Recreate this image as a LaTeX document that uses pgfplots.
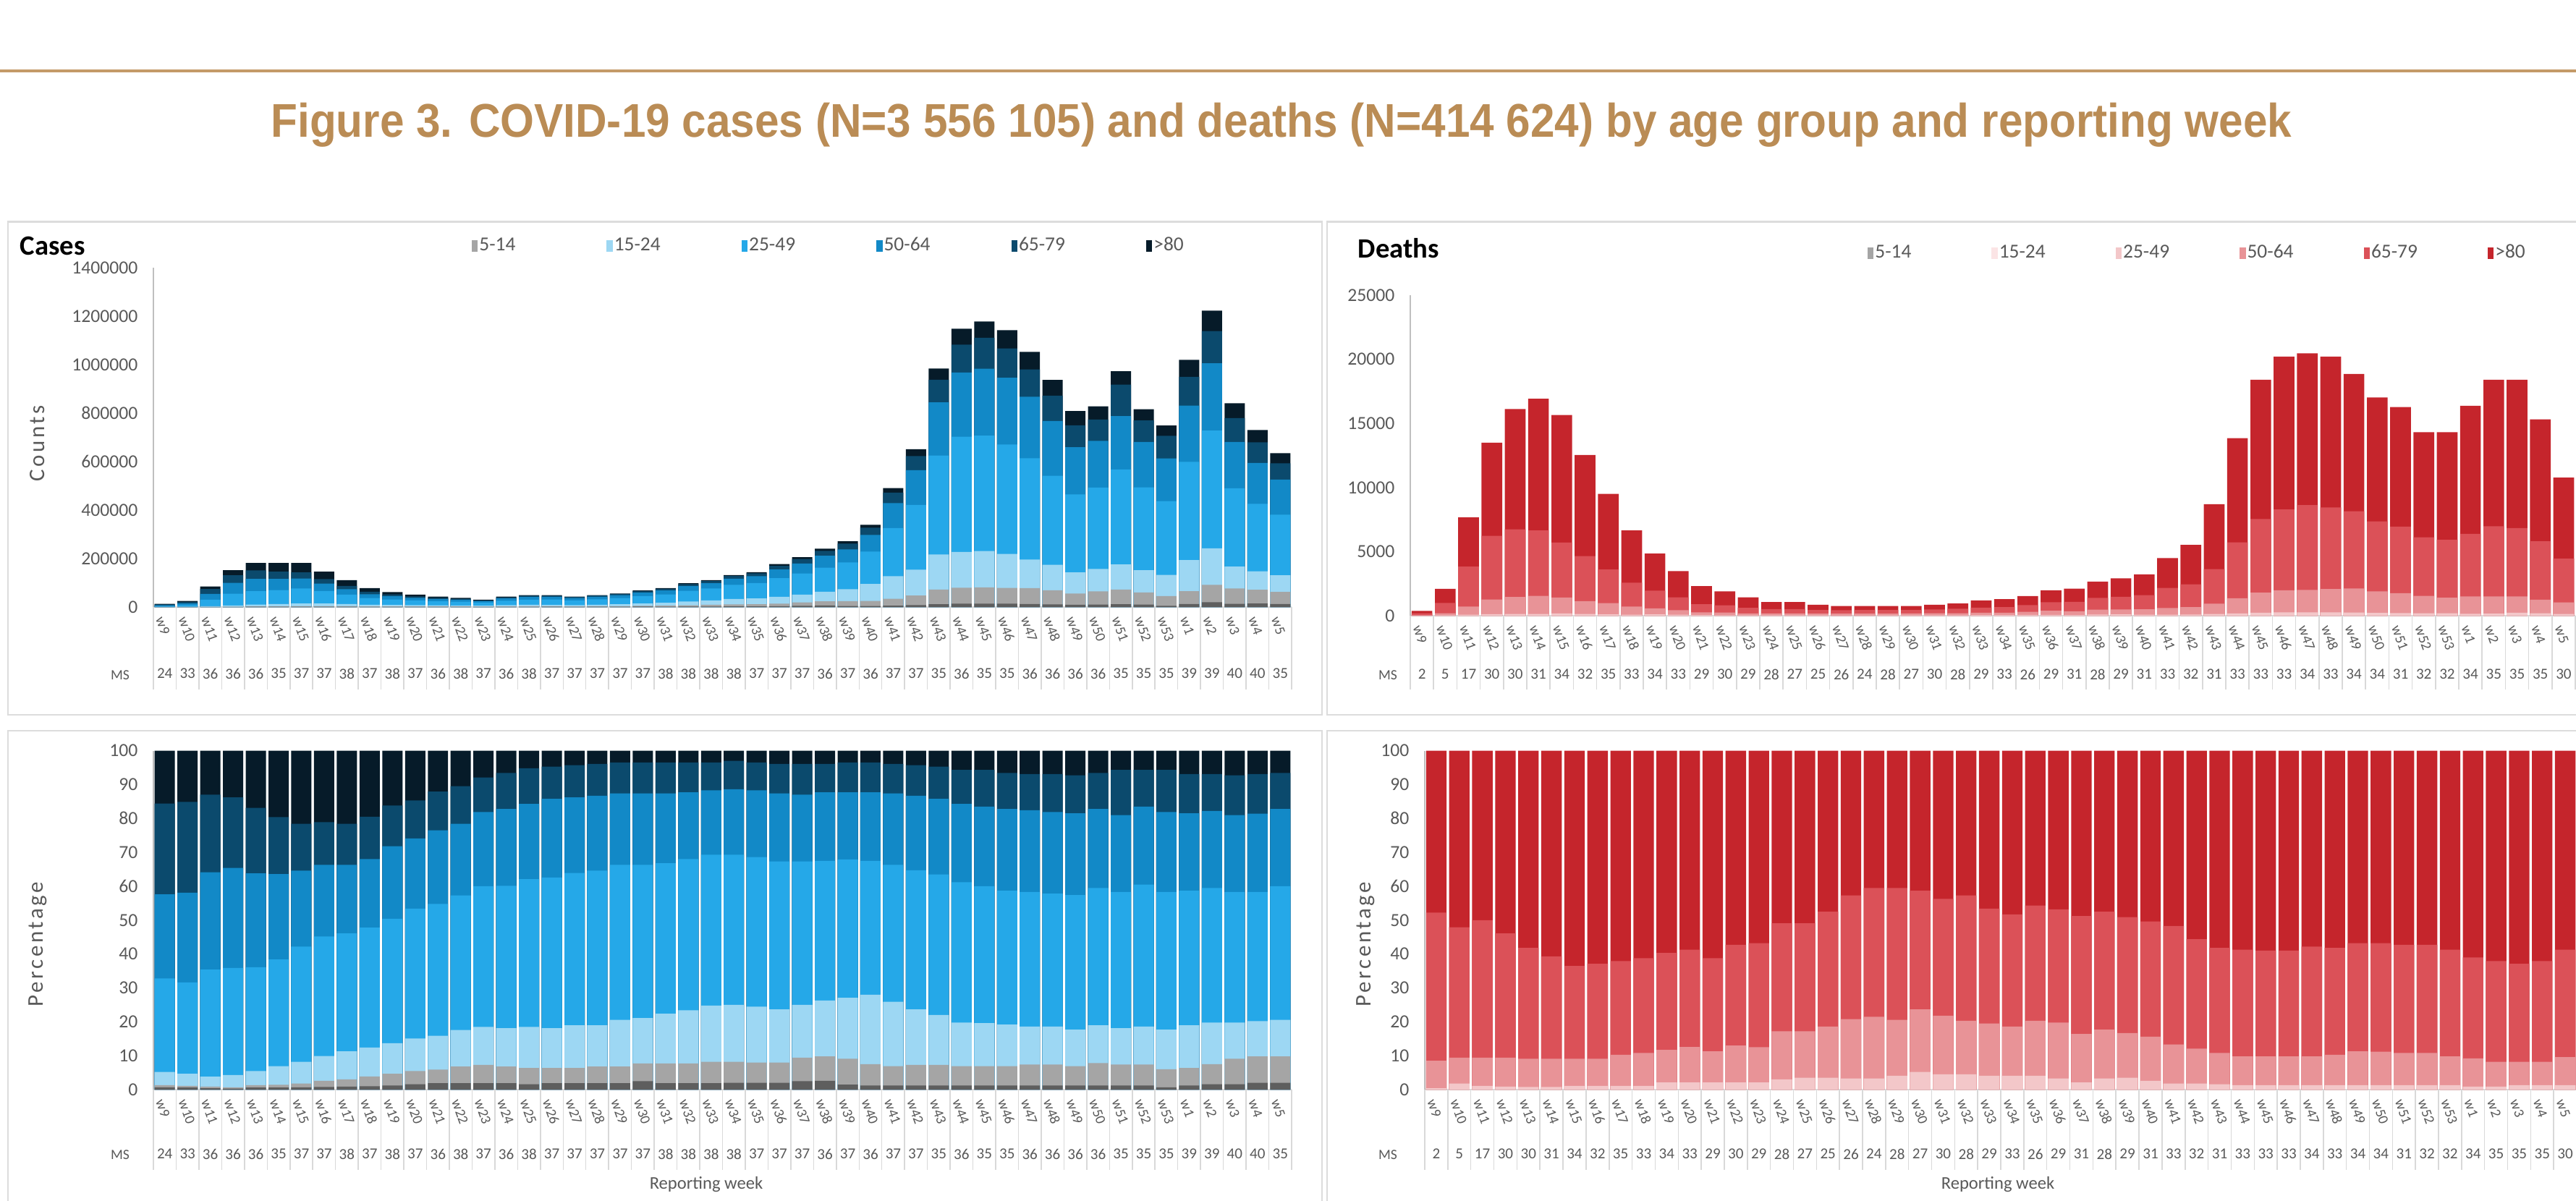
\documentclass[border=0pt]{standalone}
\usepackage{pgfplots}
\pgfplotsset{compat=1.18}
\usepackage{pgfplotstable}
\usepackage{graphicx}
\usepackage{fontspec}
\setmainfont{Carlito}
\newfontfamily\titlefont{Liberation Sans}
\newfontfamily\spacedfont[LetterSpace=11.5]{Carlito}

\definecolor{cA}{HTML}{5E5E5E}
\definecolor{cB}{HTML}{A5A5A5}
\definecolor{cC}{HTML}{9DD7F3}
\definecolor{cD}{HTML}{25A8E8}
\definecolor{cE}{HTML}{1289C7}
\definecolor{cF}{HTML}{0B4A6D}
\definecolor{cG}{HTML}{061B29}
\definecolor{dC}{HTML}{FBE4E5}
\definecolor{dD}{HTML}{F3C7C9}
\definecolor{dE}{HTML}{E89397}
\definecolor{dF}{HTML}{DB5158}
\definecolor{dG}{HTML}{C5252C}
\definecolor{tgray}{HTML}{595959}
\definecolor{xgray}{HTML}{D9D9D9}
\definecolor{ygray}{HTML}{BFBFBF}
\definecolor{panelgray}{HTML}{DCDCDC}
\definecolor{tan}{HTML}{BA8C55}
\definecolor{tanline}{HTML}{C49A68}

\def\weeks{w9,w10,w11,w12,w13,w14,w15,w16,w17,w18,w19,w20,w21,w22,w23,w24,w25,w26,w27,w28,w29,w30,w31,w32,w33,w34,w35,w36,w37,w38,w39,w40,w41,w42,w43,w44,w45,w46,w47,w48,w49,w50,w51,w52,w53,w1,w2,w3,w4,w5}
\def\mscases{24,33,36,36,36,35,37,37,38,37,38,37,36,38,37,36,38,37,37,37,37,37,38,38,38,38,37,37,37,36,37,36,37,37,35,36,35,35,36,36,36,36,35,35,35,39,39,40,40,35}
\def\msdeaths{2,5,17,30,30,31,34,32,35,33,34,33,29,30,29,28,27,25,26,24,28,27,30,28,29,33,26,29,31,28,29,31,33,32,31,33,33,33,34,33,34,34,31,32,32,34,35,35,35,30}

% cumulative tops of the stacked layers: T = >80 top, c6 = 65-79 top, ..., c1 = 0-4 top
\pgfplotstableread{
k T c6 c5 c4 c3 c2 c1
0 13000 11000 7500 4300 700 200 100
1 25000 21200 14500 7900 1200 300 150
2 85000 74000 54500 30100 3200 800 300
3 152000 131000 99400 54600 6500 1100 500
4 182000 151200 116100 65700 10000 2400 1100
5 182000 146300 115800 69900 12600 2500 1100
6 182000 142700 117600 76800 14900 3300 1300
7 146000 115200 96800 66000 14500 3800 1200
8 111000 87000 73600 51200 12500 3300 1000
9 78000 62800 53000 37300 9700 3000 800
10 62000 52000 44500 31200 8500 2900 700
11 51000 43500 37800 27200 7700 2800 800
12 43000 37800 32900 23600 6800 2500 800
13 38000 34000 29800 21800 6700 2600 700
14 30000 27600 24600 18000 5600 2200 600
15 43000 40200 35600 25800 7800 2900 800
16 49000 46500 41300 30400 9100 3100 800
17 49000 46700 42000 30700 8900 3100 900
18 43000 41200 37100 27500 8200 2800 800
19 49000 47100 42500 31700 9300 3300 900
20 56000 54000 48900 37100 11500 3800 1100
21 68000 65600 59400 45100 14300 5200 1700
22 78000 75300 68200 52100 17500 6000 1500
23 98000 94600 85900 66600 22900 7500 1900
24 111000 107100 98000 76900 27500 9100 2100
25 132000 128000 117000 91500 33000 10800 2600
26 144000 139000 127200 98800 35300 11500 2900
27 177000 170100 154700 119100 41900 14200 3500
28 206000 198000 179200 138600 51500 19400 5200
29 241000 231600 211400 162700 63400 23600 6300
30 271000 261500 237700 184000 73400 24700 4100
31 339000 327100 297300 228800 94900 25400 4100
32 491000 471900 429100 325500 127200 33900 5900
33 651000 623000 564400 421200 154300 47500 7800
34 984000 937800 844300 624800 216500 71800 11800
35 1148000 1082600 967800 702600 227300 79200 13800
36 1178000 1110900 983600 706800 230900 81300 14100
37 1142000 1066600 945600 670400 219300 78800 13700
38 1053000 980300 867700 613900 195900 77900 12600
39 937000 872300 767400 541600 174300 69300 11200
40 809000 749900 659300 464400 143200 55800 9700
41 828000 773400 685600 492700 157300 64600 9900
42 973000 917500 788100 567300 176100 72000 11700
43 816000 769500 681400 493700 151800 60400 9800
44 749000 706300 613400 436700 132600 44900 5200
45 1020000 949600 831300 598700 193800 65300 12200
46 1223000 1138600 1005300 727700 242200 91700 19600
47 841000 779600 681200 490300 166500 76500 13500
48 730000 679600 594200 425600 147500 71500 14600
49 635000 593100 525800 381000 130800 62200 12700
}\casesN

\pgfplotstableread{
k c6 c5 c4 c3 c2 c1
0 84.4 57.6 32.8 5.2 1.3 0.7
1 84.9 58.1 31.6 4.7 1.1 0.6
2 87.0 64.1 35.4 3.8 0.9 0.4
3 86.2 65.4 35.9 4.3 0.7 0.3
4 83.1 63.8 36.1 5.5 1.3 0.6
5 80.4 63.6 38.4 6.9 1.4 0.6
6 78.4 64.6 42.2 8.2 1.8 0.7
7 78.9 66.3 45.2 9.9 2.6 0.8
8 78.4 66.3 46.1 11.3 3.0 0.9
9 80.5 68.0 47.8 12.4 3.9 1.0
10 83.8 71.8 50.4 13.7 4.7 1.2
11 85.3 74.1 53.4 15.1 5.5 1.6
12 87.9 76.5 54.8 15.9 5.9 1.9
13 89.5 78.4 57.3 17.6 6.8 1.9
14 92.1 81.9 60.0 18.5 7.3 1.9
15 93.4 82.8 60.1 18.1 6.8 1.9
16 94.8 84.3 62.1 18.5 6.4 1.6
17 95.3 85.8 62.6 18.1 6.4 1.9
18 95.7 86.2 63.9 19.0 6.4 1.9
19 96.1 86.7 64.6 19.0 6.8 1.9
20 96.5 87.4 66.3 20.6 6.8 1.9
21 96.5 87.4 66.3 21.1 7.7 2.5
22 96.5 87.4 66.8 22.4 7.7 1.9
23 96.5 87.7 68.0 23.4 7.7 1.9
24 96.5 88.3 69.3 24.8 8.2 1.9
25 97.0 88.6 69.3 25.0 8.2 2.0
26 96.5 88.3 68.6 24.5 8.0 2.0
27 96.1 87.4 67.3 23.7 8.0 2.0
28 96.1 87.0 67.3 25.0 9.4 2.5
29 96.1 87.7 67.5 26.3 9.8 2.6
30 96.5 87.7 67.9 27.1 9.1 1.5
31 96.5 87.7 67.5 28.0 7.5 1.2
32 96.1 87.4 66.3 25.9 6.9 1.2
33 95.7 86.7 64.7 23.7 7.3 1.2
34 95.3 85.8 63.5 22.0 7.3 1.2
35 94.3 84.3 61.2 19.8 6.9 1.2
36 94.3 83.5 60.0 19.6 6.9 1.2
37 93.4 82.8 58.7 19.2 6.9 1.2
38 93.1 82.4 58.3 18.6 7.4 1.2
39 93.1 81.9 57.8 18.6 7.4 1.2
40 92.7 81.5 57.4 17.7 6.9 1.2
41 93.4 82.8 59.5 19.0 7.8 1.2
42 94.3 81.0 58.3 18.1 7.4 1.2
43 94.3 83.5 60.5 18.6 7.4 1.2
44 94.3 81.9 58.3 17.7 6.0 0.7
45 93.1 81.5 58.7 19.0 6.4 1.2
46 93.1 82.2 59.5 19.8 7.5 1.6
47 92.7 81.0 58.3 19.8 9.1 1.6
48 93.1 81.4 58.3 20.2 9.8 2.0
49 93.4 82.8 60.0 20.6 9.8 2.0
}\casesP

% deaths: T = >80 top, d3 = 65-79 top, d2 = 50-64 top, d1 = 25-49 top
\pgfplotstableread{
k T d3 d2 d1
0 370 193 31 2
1 2090 1001 196 38
2 7670 3835 721 84
3 13500 6224 1269 122
4 16120 6738 1467 129
5 16920 6650 1540 135
6 15650 5712 1424 172
7 12540 4652 1141 138
8 9510 3604 980 105
9 6650 2580 718 73
10 4850 1955 567 102
11 3480 1437 438 73
12 2310 896 261 49
13 1900 811 247 40
14 1430 618 179 30
15 1060 520 182 32
16 1060 520 182 37
17 860 452 160 30
18 760 435 158 25
19 760 452 163 25
20 760 452 157 31
21 760 446 180 40
22 860 484 187 39
23 960 550 195 43
24 1190 635 232 49
25 1290 667 240 53
26 1530 831 311 63
27 1980 1053 392 65
28 2110 1080 346 44
29 2660 1397 471 88
30 2910 1481 486 102
31 3230 1602 504 84
32 4500 2174 599 81
33 5520 2451 668 99
34 8700 3637 940 139
35 13850 5720 1357 180
36 18410 7548 1804 239
37 20210 8286 1981 263
38 20460 8634 2005 266
39 20210 8448 2082 263
40 18860 8148 2131 245
41 17020 7353 1906 221
42 16270 6947 1757 212
43 14320 6115 1547 186
44 14320 5914 1403 186
45 16370 6384 1506 147
46 18410 6977 1510 166
47 18410 6830 1510 239
48 15320 5806 1256 199
49 10780 4452 1035 140
}\deathsN

\pgfplotstableread{
k p3 p2 p1
0 52.2 8.5 0.4
1 47.9 9.4 1.8
2 50.0 9.4 1.1
3 46.1 9.4 0.9
4 41.8 9.1 0.8
5 39.3 9.1 0.8
6 36.5 9.1 1.1
7 37.1 9.1 1.1
8 37.9 10.3 1.1
9 38.8 10.8 1.1
10 40.3 11.7 2.1
11 41.3 12.6 2.1
12 38.8 11.3 2.1
13 42.7 13.0 2.1
14 43.2 12.5 2.1
15 49.1 17.2 3.0
16 49.1 17.2 3.5
17 52.5 18.6 3.5
18 57.3 20.8 3.3
19 59.5 21.5 3.3
20 59.5 20.6 4.1
21 58.7 23.7 5.2
22 56.3 21.8 4.5
23 57.3 20.3 4.5
24 53.4 19.5 4.1
25 51.7 18.6 4.1
26 54.3 20.3 4.1
27 53.2 19.8 3.3
28 51.2 16.4 2.1
29 52.5 17.7 3.3
30 50.9 16.7 3.5
31 49.6 15.6 2.6
32 48.3 13.3 1.8
33 44.4 12.1 1.8
34 41.8 10.8 1.6
35 41.3 9.8 1.3
36 41.0 9.8 1.3
37 41.0 9.8 1.3
38 42.2 9.8 1.3
39 41.8 10.3 1.3
40 43.2 11.3 1.3
41 43.2 11.2 1.3
42 42.7 10.8 1.3
43 42.7 10.8 1.3
44 41.3 9.8 1.3
45 39.0 9.2 0.9
46 37.9 8.2 0.9
47 37.1 8.2 1.3
48 37.9 8.2 1.3
49 41.3 9.6 1.3
}\deathsP

\pgfplotsset{
  lay/.style={ybar, bar width=0.89, bar shift=0pt, fill=#1, draw=none, forget plot},
  panel/.style={
    scale only axis, anchor=south west,
    xmin=-0.5, xmax=49.5, ymin=0, enlargelimits=false,
    axis x line*=bottom, axis y line*=left,
    x axis line style={draw=xgray, line width=0.02cm, -},
    y axis line style={draw=ygray, line width=0.02cm, -},
    xtick={0,...,49}, xticklabels/.expand once=\weeks,
    major tick length=0pt, tick align=outside,
    xticklabel style={yshift=-0.14cm, xshift=-0.07cm, rotate=-70, anchor=west, inner sep=0pt,
      font=\fontsize{5.6}{6}\selectfont, text=tgray},
    yticklabel style={xshift=-0.21cm, inner sep=0pt, anchor=east,
      font=\fontsize{7.3}{8}\selectfont, text=tgray},
    /pgf/number format/assume math mode=true,
    /pgf/number format/fixed, /pgf/number format/precision=0,
    /pgf/number format/1000 sep={},
    scaled y ticks=false,
    legend columns=6,
    legend style={draw=none, fill=none, inner sep=0pt, outer sep=0pt,
      font=\fontsize{7.8}{9}\selectfont, text=tgray,
      nodes={inner sep=0.02cm}, cells={anchor=west},
      /tikz/every even column/.append style={column sep=0pt}},
  },
  mspanel/.style={
    scale only axis, anchor=south west,
    xmin=-0.5, xmax=49.5, ymin=0, ymax=1,
    axis x line*=bottom, axis y line=none, x axis line style={draw=none},
    xtick={0,...,49}, major tick length=0pt, tick align=outside,
    minor xtick={-0.5,0.5,...,49.5},
    minor tick style={draw=xgray, line width=0.015cm},
    xticklabel style={anchor=center, inner sep=0pt,
      font=\fontsize{6.0}{7}\selectfont, text=tgray},
  },
}

\newcommand\limg[1]{\addlegendimage{legend image code/.code={\fill[#1] (0cm,-0.07cm) rectangle (0.07cm,0.07cm);}}}

\begin{document}
\begin{tikzpicture}
\useasboundingbox (0,0) rectangle (35.6,-16.59);

% header rule and title
\draw[tanline, line width=0.04cm] (0,-0.976) -- (35.6,-0.976);
\node[anchor=base, text=tan, inner sep=0pt] at (17.71,-1.895)
  {\resizebox{27.93cm}{\height}{\fontsize{18.6}{21}\selectfont\titlefont\bfseries Figure 3. COVID-19 cases (N=3 556 105) and deaths (N=414 624) by age group and reporting week}};

% panel frames
\draw[panelgray, line width=0.025cm] (0.11,-3.065) rectangle (18.27,-9.88);
\draw[panelgray, line width=0.025cm] (18.34,-3.065) rectangle (35.75,-9.88);
\draw[panelgray, line width=0.025cm] (0.11,-10.10) rectangle (18.27,-16.8);
\draw[panelgray, line width=0.025cm] (18.34,-10.10) rectangle (35.75,-16.8);

% ---------- Cases counts ----------
\begin{axis}[panel, at={(2.12cm,-8.39cm)}, width=15.73cm, height=4.69cm,
  ymax=1400000, ytick={0,200000,...,1400000},
  legend style={at={(0.2797,1.064)}, anchor=west}]
\addplot[lay=cG] table[x=k,y=T]{\casesN};
\addplot[lay=cF] table[x=k,y=c6]{\casesN};
\addplot[lay=cE] table[x=k,y=c5]{\casesN};
\addplot[lay=cD] table[x=k,y=c4]{\casesN};
\addplot[lay=cC] table[x=k,y=c3]{\casesN};
\addplot[lay=cB] table[x=k,y=c2]{\casesN};
\addplot[lay=cA] table[x=k,y=c1]{\casesN};
\limg{cB}\addlegendentry{\makebox[1.74cm][l]{5-14}}
\limg{cC}\addlegendentry{\makebox[1.74cm][l]{15-24}}
\limg{cD}\addlegendentry{\makebox[1.74cm][l]{25-49}}
\limg{cE}\addlegendentry{\makebox[1.74cm][l]{50-64}}
\limg{cF}\addlegendentry{\makebox[1.74cm][l]{65-79}}
\limg{cG}\addlegendentry{\makebox[1.74cm][l]{>80}}
\end{axis}
\begin{axis}[mspanel, at={(2.12cm,-8.39cm)}, width=15.73cm, height=4.69cm,
  xticklabels/.expand once=\mscases, minor tick length=1.14cm,
  xticklabel style={yshift=-0.92cm}]
\end{axis}

% ---------- Deaths counts ----------
\begin{axis}[panel, at={(19.49cm,-8.51cm)}, width=16.10cm, height=4.43cm,
  ymax=25000, ytick={0,5000,...,25000},
  legend style={at={(0.3925,1.131)}, anchor=west}]
\addplot[lay=dG] table[x=k,y=T]{\deathsN};
\addplot[lay=dF] table[x=k,y=d3]{\deathsN};
\addplot[lay=dE] table[x=k,y=d2]{\deathsN};
\addplot[lay=dD] table[x=k,y=d1]{\deathsN};
\limg{cB}\addlegendentry{\makebox[1.59cm][l]{5-14}}
\limg{dC}\addlegendentry{\makebox[1.59cm][l]{15-24}}
\limg{dD}\addlegendentry{\makebox[1.59cm][l]{25-49}}
\limg{dE}\addlegendentry{\makebox[1.59cm][l]{50-64}}
\limg{dF}\addlegendentry{\makebox[1.59cm][l]{65-79}}
\limg{dG}\addlegendentry{\makebox[1.59cm][l]{>80}}
\end{axis}
\begin{axis}[mspanel, at={(19.49cm,-8.51cm)}, width=16.10cm, height=4.43cm,
  xticklabels/.expand once=\msdeaths, minor tick length=1.02cm,
  xticklabel style={yshift=-0.81cm}]
\end{axis}

% ---------- Cases percentage ----------
\begin{axis}[panel, at={(2.12cm,-15.06cm)}, width=15.73cm, height=4.685cm,
  ymax=100, ytick={0,10,...,100}]
\addplot[lay=cG] coordinates {(0,100)(1,100)(2,100)(3,100)(4,100)(5,100)(6,100)(7,100)(8,100)(9,100)(10,100)(11,100)(12,100)(13,100)(14,100)(15,100)(16,100)(17,100)(18,100)(19,100)(20,100)(21,100)(22,100)(23,100)(24,100)(25,100)(26,100)(27,100)(28,100)(29,100)(30,100)(31,100)(32,100)(33,100)(34,100)(35,100)(36,100)(37,100)(38,100)(39,100)(40,100)(41,100)(42,100)(43,100)(44,100)(45,100)(46,100)(47,100)(48,100)(49,100)};
\addplot[lay=cF] table[x=k,y=c6]{\casesP};
\addplot[lay=cE] table[x=k,y=c5]{\casesP};
\addplot[lay=cD] table[x=k,y=c4]{\casesP};
\addplot[lay=cC] table[x=k,y=c3]{\casesP};
\addplot[lay=cB] table[x=k,y=c2]{\casesP};
\addplot[lay=cA] table[x=k,y=c1]{\casesP};
\end{axis}
\begin{axis}[mspanel, at={(2.12cm,-15.06cm)}, width=15.73cm, height=4.685cm,
  xticklabels/.expand once=\mscases, minor tick length=1.11cm,
  xticklabel style={yshift=-0.89cm}]
\end{axis}

% ---------- Deaths percentage ----------
\begin{axis}[panel, at={(19.69cm,-15.06cm)}, width=15.92cm, height=4.685cm,
  ymax=100, ytick={0,10,...,100}]
\addplot[lay=dG] coordinates {(0,100)(1,100)(2,100)(3,100)(4,100)(5,100)(6,100)(7,100)(8,100)(9,100)(10,100)(11,100)(12,100)(13,100)(14,100)(15,100)(16,100)(17,100)(18,100)(19,100)(20,100)(21,100)(22,100)(23,100)(24,100)(25,100)(26,100)(27,100)(28,100)(29,100)(30,100)(31,100)(32,100)(33,100)(34,100)(35,100)(36,100)(37,100)(38,100)(39,100)(40,100)(41,100)(42,100)(43,100)(44,100)(45,100)(46,100)(47,100)(48,100)(49,100)};
\addplot[lay=dF] table[x=k,y=p3]{\deathsP};
\addplot[lay=dE] table[x=k,y=p2]{\deathsP};
\addplot[lay=dD] table[x=k,y=p1]{\deathsP};
\end{axis}
\begin{axis}[mspanel, at={(19.69cm,-15.06cm)}, width=15.92cm, height=4.685cm,
  xticklabels/.expand once=\msdeaths, minor tick length=1.11cm,
  xticklabel style={yshift=-0.89cm}]
\end{axis}

% ---------- panel texts ----------
\node[anchor=west, inner sep=0pt, font=\fontsize{11}{13}\selectfont\bfseries] at (0.27,-3.40) {Cases};
\node[anchor=west, inner sep=0pt, font=\fontsize{11}{13}\selectfont\bfseries] at (18.76,-3.43) {Deaths};
\node[rotate=90, inner sep=0pt, text=tgray, font=\fontsize{8.8}{10}\spacedfont] at (0.52,-6.13) {Counts};
\node[rotate=90, inner sep=0pt, text=tgray, font=\fontsize{8.8}{10}\spacedfont] at (0.52,-13.05) {Percentage};
\node[rotate=90, inner sep=0pt, text=tgray, font=\fontsize{8.8}{10}\spacedfont] at (18.87,-13.05) {Percentage};
\node[inner sep=0pt, text=tgray, font=\fontsize{7}{8}\selectfont] at (9.76,-16.37) {Reporting week};
\node[inner sep=0pt, text=tgray, font=\fontsize{7}{8}\selectfont] at (27.61,-16.37) {Reporting week};
\node[inner sep=0pt, text=tgray, font=\fontsize{5.6}{7}\selectfont] at (1.66,-9.33) {MS};
\node[inner sep=0pt, text=tgray, font=\fontsize{5.6}{7}\selectfont] at (19.18,-9.33) {MS};
\node[inner sep=0pt, text=tgray, font=\fontsize{5.6}{7}\selectfont] at (1.66,-15.96) {MS};
\node[inner sep=0pt, text=tgray, font=\fontsize{5.6}{7}\selectfont] at (19.18,-15.96) {MS};
\end{tikzpicture}
\end{document}
